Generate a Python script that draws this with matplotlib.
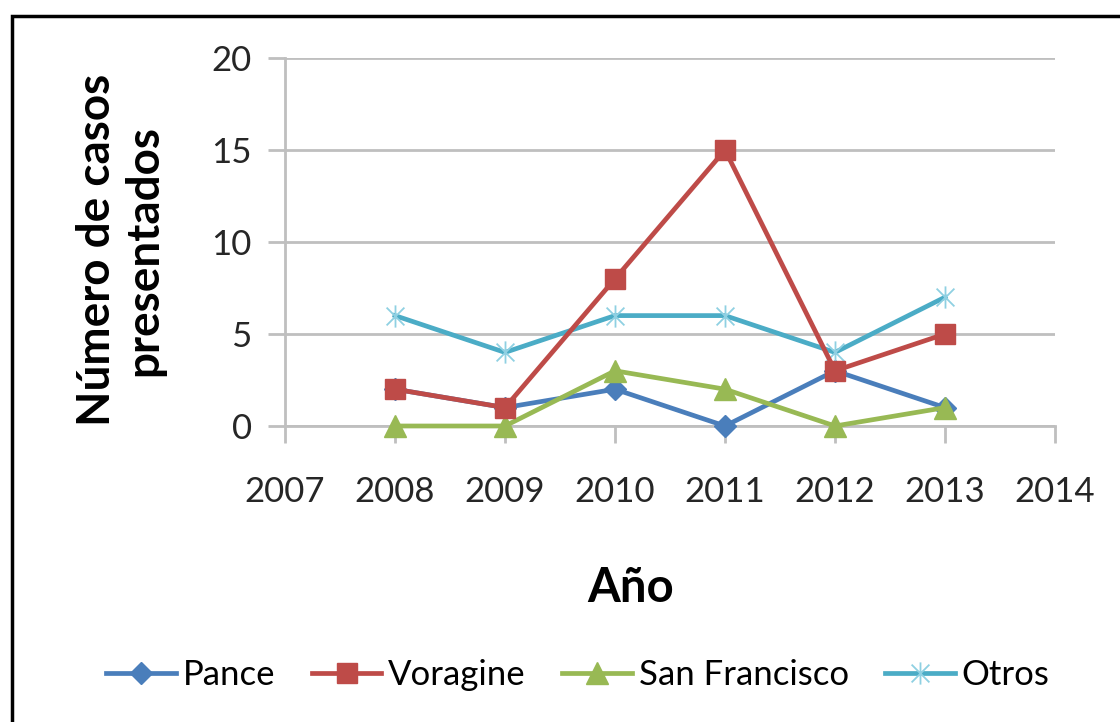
import matplotlib
matplotlib.use("Agg")
import matplotlib.pyplot as plt
from matplotlib.path import Path
from matplotlib.patches import Rectangle

plt.rcParams['font.family'] = ['Lato', 'DejaVu Sans']

years = [2008, 2009, 2010, 2011, 2012, 2013]
pance = [2, 1, 2, 0, 3, 1]
voragine = [2, 1, 8, 15, 3, 5]
san_francisco = [0, 0, 3, 2, 0, 1]
otros = [6, 4, 6, 6, 4, 7]
xticks = [2007, 2008, 2009, 2010, 2011, 2012, 2013, 2014]
yticks = [0, 5, 10, 15, 20]

star = Path([(0, -1), (0, 1), (-0.8, -0.8), (0.8, 0.8), (-0.8, 0.8), (0.8, -0.8)],
            [Path.MOVETO, Path.LINETO, Path.MOVETO, Path.LINETO, Path.MOVETO, Path.LINETO])

fig = plt.figure(figsize=(11.2, 7.22), dpi=100)
ax = fig.add_axes([285/1120, 1-426/722, 770/1120, 368/722])

ax.plot(years, pance, color='#4A7EBB', lw=3.4, marker='D', ms=11, label='Pance',
        zorder=3, clip_on=False)
ax.plot(years, voragine, color='#BE4B48', lw=3.4, marker='s', ms=15, label='Voragine',
        zorder=4, clip_on=False)
ax.plot(years, san_francisco, color='#98B954', lw=3.4, marker='^', ms=16,
        label='San Francisco', zorder=3, clip_on=False)
ax.plot(years, otros, color='#4BACC6', lw=3.4, marker=star, ms=16, mew=1.3,
        mec='#8FD0E2', label='Otros', zorder=3, clip_on=False)

ax.set_xlim(2007, 2014)
ax.set_ylim(0, 20)
ax.set_xticks(xticks)
ax.set_yticks(yticks)
ax.yaxis.grid(True, color='#BFBFBF', lw=2)
ax.set_axisbelow(True)
for s in ['top', 'right']:
    ax.spines[s].set_visible(False)
ax.spines['left'].set_color('#BFBFBF')
ax.spines['left'].set_linewidth(2)
ax.spines['bottom'].set_color('#BFBFBF')
ax.spines['bottom'].set_linewidth(2)
ax.tick_params(axis='both', colors='#BFBFBF', width=2, length=12, labelsize=25,
               labelcolor='#262626')
ax.tick_params(axis='x', pad=24)
ax.tick_params(axis='y', pad=12)

ax.set_xlabel('Año', fontsize=34, fontweight='bold')
ax.xaxis.set_label_coords((631 - 285) / 770, -(588 - 426) / 368)
ax.xaxis.label.set_va('center')
ax.set_ylabel('Número de casos\npresentados', fontsize=33, fontweight='bold',
              linespacing=1.15)
ax.yaxis.set_label_coords(-(285 - 121) / 770, (426 - 250) / 368)
ax.yaxis.label.set_va('center')

ax.legend(loc='center', bbox_to_anchor=((578 - 285) / 770, -(675 - 426) / 368), ncol=4,
          frameon=False, fontsize=25, handlelength=2.0, handletextpad=0.2,
          columnspacing=1.05, borderaxespad=0)

fig.patches.append(Rectangle((12/1120, -0.1), 1.2, 1 - 16/722 + 0.1,
                             transform=fig.transFigure, fill=False, ec='black', lw=2.5))

fig.savefig('out.png', dpi=100)
